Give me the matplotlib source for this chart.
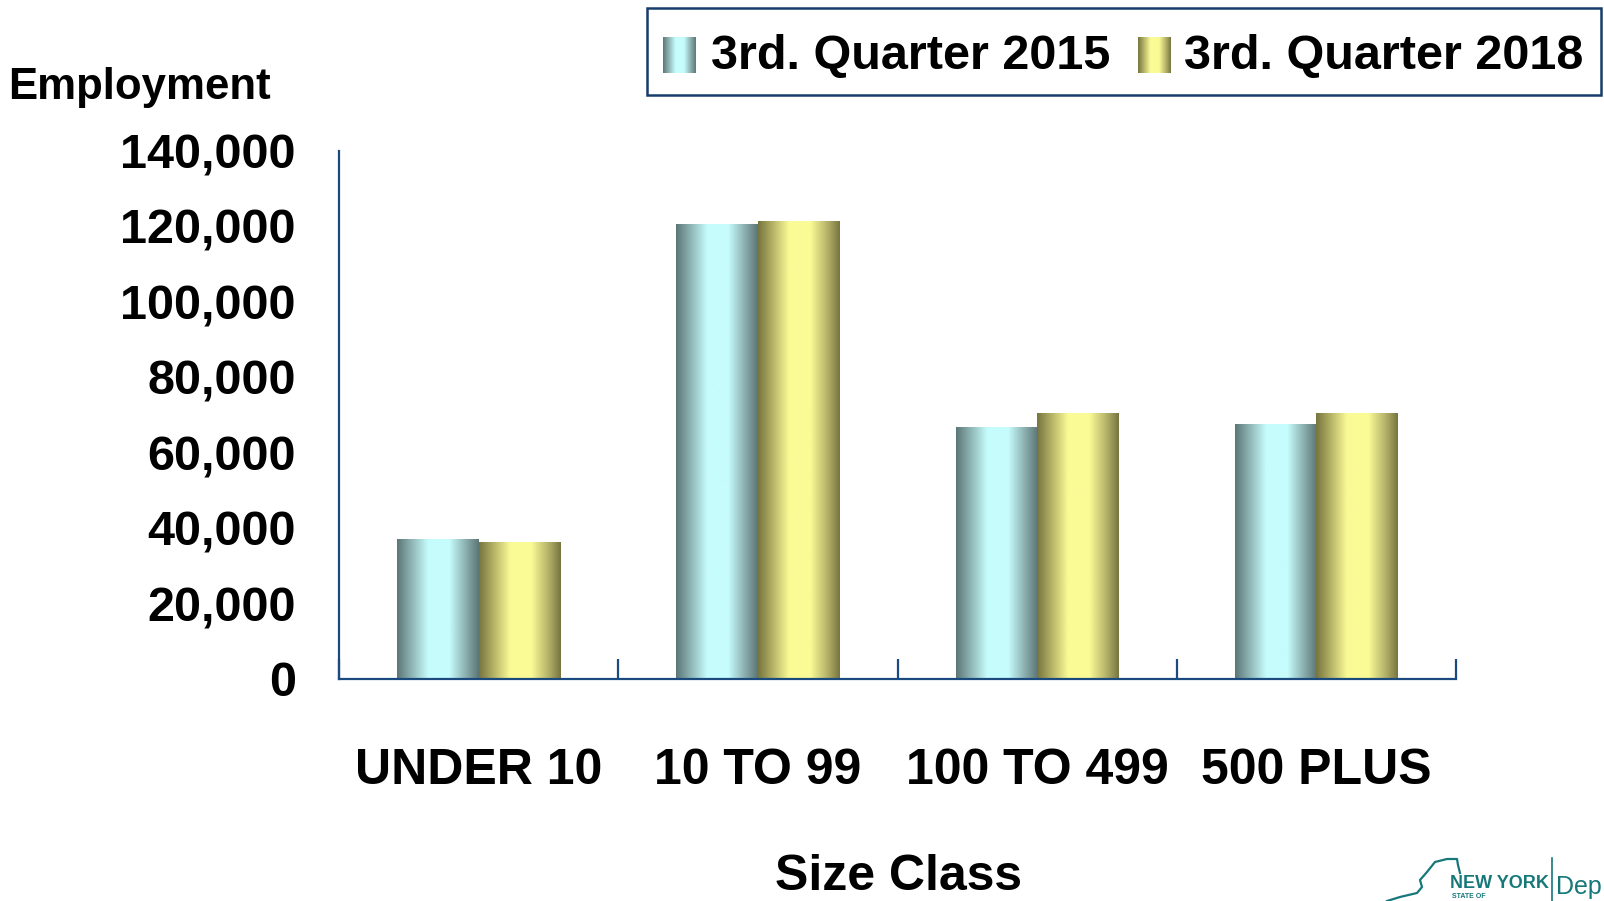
import numpy as np
import matplotlib
matplotlib.use("Agg")
import matplotlib.pyplot as plt
from matplotlib.colors import LinearSegmentedColormap
from matplotlib.patches import Rectangle
from matplotlib.lines import Line2D

plt.rcParams['font.family'] = ['Liberation Sans', 'DejaVu Sans']
plt.rcParams['font.weight'] = 'bold'

# data
categories = ['UNDER 10', '10 TO 99', '100 TO 499', '500 PLUS']
series_names = ['3rd. Quarter 2015', '3rd. Quarter 2018']
q3_2015 = [36900, 120600, 66600, 67400]
q3_2018 = [36300, 121200, 70300, 70300]
y_ticks = [0, 20000, 40000, 60000, 80000, 100000, 120000, 140000]

W, H = 1604, 901
navy = '#1b4a7e'
teal = '#17787a'

# horizontal "cylinder" shading for each series
stops = [0.0, 0.12, 0.38, 0.64, 0.86, 1.0]
cyan_cols = ['#5c7676', '#7fa0a0', '#c6fcfc', '#c6fcfc', '#86a8a8', '#5c7676']
yell_cols = ['#77753f', '#a09e58', '#fbfb96', '#fbfb96', '#b0ae66', '#77753f']
cmaps = [LinearSegmentedColormap.from_list('c', list(zip(stops, cyan_cols))),
         LinearSegmentedColormap.from_list('y', list(zip(stops, yell_cols)))]
grad = np.linspace(0, 1, 256).reshape(1, -1)

fig = plt.figure(figsize=(W / 100, H / 100), dpi=100)
ax = fig.add_axes([339 / W, 1 - 679 / H, (1456 - 339) / W, (679 - 151) / H])

x = np.arange(len(categories))
width = 0.292
for k, vals in enumerate([q3_2015, q3_2018]):
    offs = (k - 0.5) * width
    bars = ax.bar(x + offs, vals, width, color='none', edgecolor='none')
    for b in bars:
        ax.imshow(grad, cmap=cmaps[k], aspect='auto', interpolation='bilinear',
                  extent=[b.get_x(), b.get_x() + b.get_width(), 0, b.get_height()],
                  zorder=2)

ax.set_xlim(-0.5, len(categories) - 0.5)
ax.set_ylim(0, 140000)

for s in ['top', 'right']:
    ax.spines[s].set_visible(False)
for s in ['left', 'bottom']:
    ax.spines[s].set_color(navy)
    ax.spines[s].set_linewidth(1.6)
    ax.spines[s].set_zorder(3)

ax.set_yticks(y_ticks)
ax.set_yticklabels([f'{v:,}' for v in y_ticks])
ax.tick_params(axis='y', length=0, pad=31, labelsize=35)

ax.set_xticks(np.arange(len(categories) + 1) - 0.5)
ax.set_xticklabels([])
ax.tick_params(axis='x', which='major', direction='in', length=14.4,
               width=1.6, color=navy)
ax.set_xticks(x, minor=True)
ax.set_xticklabels(categories, minor=True)
ax.tick_params(axis='x', which='minor', length=0, pad=50, labelsize=36)

fig.text(8 / W, 1 - 87 / H, 'Employment', ha='left', va='center', fontsize=31.5)
fig.text(898 / W, 1 - 877 / H, 'Size Class', ha='center', va='center', fontsize=36)

# legend box drawn by hand so the swatches can carry the shading
fig.patches.append(Rectangle((647 / W, 1 - 95 / H), (1601 - 647) / W, 87 / H,
                             transform=fig.transFigure, facecolor='white',
                             edgecolor='#163d6a', linewidth=1.8, zorder=-1))
sw_x = [663, 1138]
tx_x = [711, 1184]
for k in range(2):
    sw = fig.add_axes([sw_x[k] / W, 1 - 73 / H, 33 / W, 36 / H], zorder=5)
    sw.imshow(grad, cmap=cmaps[k], aspect='auto', interpolation='bilinear')
    sw.set_axis_off()
    fig.text(tx_x[k] / W, 1 - 57 / H, series_names[k], ha='left', va='center',
             fontsize=35)

# agency logo fragment, bottom right
outline = np.array([(1387, 901), (1400, 897), (1417, 893), (1422, 887), (1420, 880),
                    (1427, 872), (1435, 862), (1447, 859), (1457, 859), (1458, 865),
                    (1460, 873)])
fig.lines.append(Line2D(outline[:, 0] / W, 1 - outline[:, 1] / H,
                        transform=fig.transFigure, color=teal, linewidth=1.6))
fig.text(1450 / W, 1 - 884 / H, 'NEW YORK', ha='left', va='center', fontsize=13,
         color=teal)
fig.text(1452 / W, 1 - 896 / H, 'STATE OF', ha='left', va='center', fontsize=5,
         color=teal)
fig.lines.append(Line2D([1552 / W, 1552 / W], [1 - 858 / H, 0],
                        transform=fig.transFigure, color=teal, linewidth=1.2))
fig.text(1556 / W, 1 - 899 / H, 'Dep', ha='left', va='bottom',
         fontsize=18, color=teal, fontweight='normal')

fig.savefig('out.png', dpi=100)
